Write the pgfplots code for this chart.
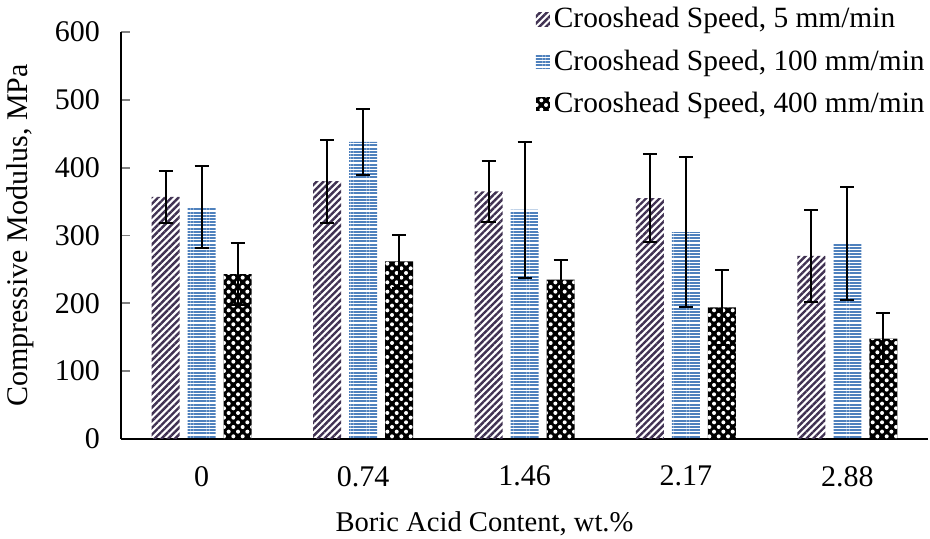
\documentclass[border=0pt]{standalone}
\usepackage{fontspec}
\setmainfont{Liberation Serif}
\usepackage{pgfplots}
\pgfplotsset{compat=1.18}
\usetikzlibrary{patterns.meta}
\definecolor{purp}{RGB}{64,49,82}
\definecolor{blu}{RGB}{79,129,189}

\begin{document}
\begin{tikzpicture}
\begin{axis}[
  name=ax,
  scale only axis,
  width=403.5pt, height=203.5pt,
  ybar=4pt, bar width=14pt,
  xmin=-0.5, xmax=4.5,
  ymin=0, ymax=600,
  xtick={0,1,2,3,4},
  xticklabels={{0},{0.74},{1.46},{2.17},{2.88}},
  ytick={0,100,...,600},
  axis lines=left,
  axis line style={-, line width=0.9pt},
  xtick style={draw=none},
  ytick style={line width=0.9pt},
  tick align=inside,
  major tick length=4.5pt,
  /pgf/number format/assume math mode=true,
  font=\fontsize{15}{17}\selectfont,
  yticklabel style={xshift=-7pt},
  xticklabel style={yshift=-10pt},
  xlabel={Boric Acid Content, wt.\%},
  ylabel={Compressive Modulus, MPa},
  xlabel style={at={(axis description cs:0.4504,-0.2088)}, anchor=center, font=\fontsize{14.3}{16}\selectfont},
  ylabel style={at={(axis description cs:-0.1252,0.5)}, anchor=center},
  clip=false,
  legend style={at={(axis description cs:1,1)}, anchor=north east, yshift=15.5pt, xshift=1.5pt,
    draw=none, fill=none, row sep=5.5pt, font=\fontsize{14.7}{16.5}\selectfont,
    cells={anchor=west}, inner sep=1pt},
  legend image code/.code={\path[#1, draw=none] (0pt,-3.5pt) rectangle (7pt,3.5pt);},
  error bars/error bar style={line width=1pt, black},
  error bars/error mark options={rotate=90, mark size=3.5pt, line width=1pt, black},
]
\addplot[draw=none, pattern={Lines[angle=45, distance=2.4pt, line width=1.2pt]}, pattern color=purp,
  error bars/.cd, y dir=both, y explicit]
  table[x=x, y=y, y error=e] {
x y e
0 357 38
1 380 61
2 365 45
3 355 65
4 270 68
};
\addplot[draw=none, pattern={Lines[angle=0, distance=1.6pt, line width=1pt]}, pattern color=blu,
  error bars/.cd, y dir=both, y explicit]
  table[x=x, y=y, y error=e] {
x y e
0 342 61
1 438 49
2 338 100
3 305 111
4 288 83
};
\addplot[draw=none, fill=black, postaction={pattern={Dots[angle=45, distance=3.3pt, radius=1pt]}, pattern color=white},
  error bars/.cd, y dir=both, y explicit]
  table[x=x, y=y, y error=e] {
x y e
0 243 46
1 262 39
2 235 29
3 194 55
4 148 38
};
\legend{{Crooshead Speed, 5 mm/min}, {Crooshead Speed, 100 mm/min}, {Crooshead Speed, 400 mm/min}}
\end{axis}
\pgfresetboundingbox
\path ([shift={(-60.5pt,-50pt)}]ax.south west) rectangle ([shift={(1pt,16pt)}]ax.north east);
\end{tikzpicture}
\end{document}
